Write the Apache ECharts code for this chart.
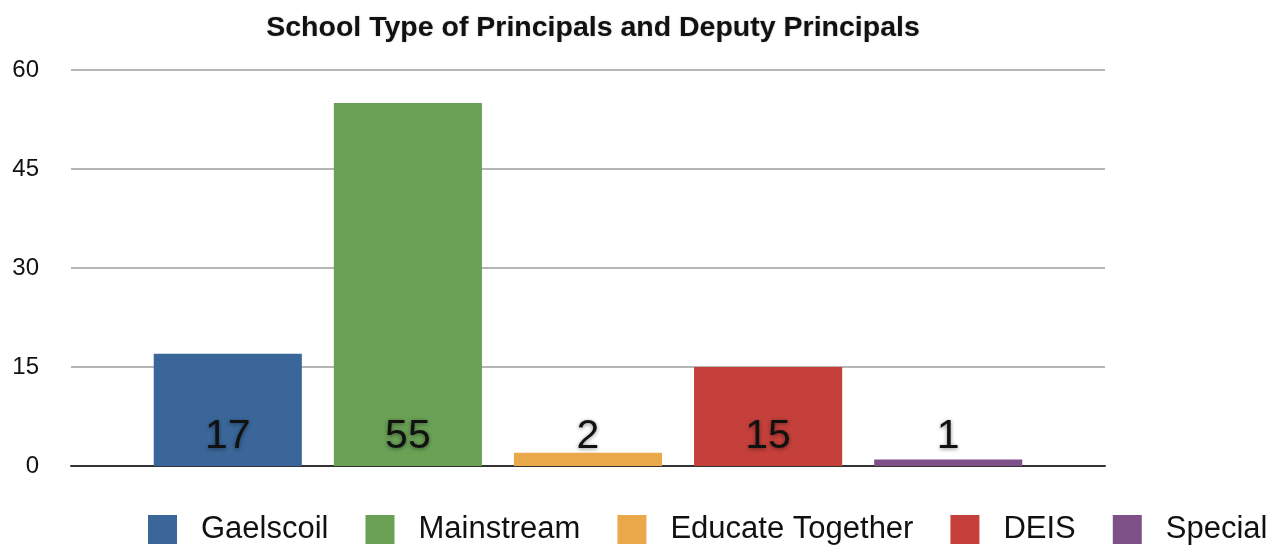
<!DOCTYPE html>
<html><head><meta charset="utf-8">
<script src="https://cdn.jsdelivr.net/npm/echarts@6/dist/echarts.min.js"></script>
<style>html,body{margin:0;padding:0;background:#fff}#c{width:1275px;height:549px}</style>
</head><body><div id="c"></div>
<script>
const seriesNames = ['Gaelscoil', 'Mainstream', 'Educate Together', 'DEIS', 'Special'];
const seriesValues = [17, 55, 2, 15, 1];
const seriesColors = ['#3a6699', '#6aa155', '#e9a94a', '#c5403a', '#7f5189'];
const categories = [''];
const yTicks = [0, 15, 30, 45, 60];

const chart = echarts.init(document.getElementById('c'));
chart.setOption({
  animation: false,
  color: seriesColors,
  title: {
    text: 'School Type of Principals and Deputy Principals',
    left: 588, top: 9, textAlign: 'center',
    textStyle: {fontFamily: 'Liberation Sans', fontWeight: 'bold', fontSize: 28.5, color: '#111',
      textShadowColor: 'rgba(0,0,0,0.25)', textShadowBlur: 2}
  },
  legend: {
    data: seriesNames,
    left: 148, top: 514, width: 1127, padding: 0,
    itemWidth: 29, itemHeight: 29, itemGap: 37,
    icon: 'rect',
    textStyle: {fontFamily: 'Liberation Sans', fontSize: 31, color: '#111', padding: [0, 0, 0, 19]}
  },
  grid: {left: 71, right: 170, top: 70, bottom: 83, containLabel: false},
  xAxis: {
    type: 'category', data: categories,
    axisLine: {lineStyle: {color: '#333', width: 2}},
    axisTick: {show: false}, axisLabel: {show: false}
  },
  yAxis: {
    type: 'value', min: yTicks[0], max: yTicks[yTicks.length - 1], interval: 15,
    axisLine: {show: false}, axisTick: {show: false},
    axisLabel: {fontFamily: 'Liberation Sans', fontSize: 24, color: '#111', margin: 32},
    splitLine: {lineStyle: {color: '#b5b5b5', width: 2}}
  },
  series: seriesNames.map((n, i) => ({
    name: n, type: 'bar',
    data: [seriesValues[i]],
    barGap: '21.6%', barCategoryGap: '16%',
    itemStyle: {color: seriesColors[i]},
    label: {
      show: true, position: 'insideBottom', distance: 9,
      fontFamily: 'Liberation Sans', fontSize: 41, color: '#111',
      textShadowColor: 'rgba(0,0,0,0.45)', textShadowBlur: 4, textShadowOffsetY: 1
    }
  }))
});
</script></body></html>
